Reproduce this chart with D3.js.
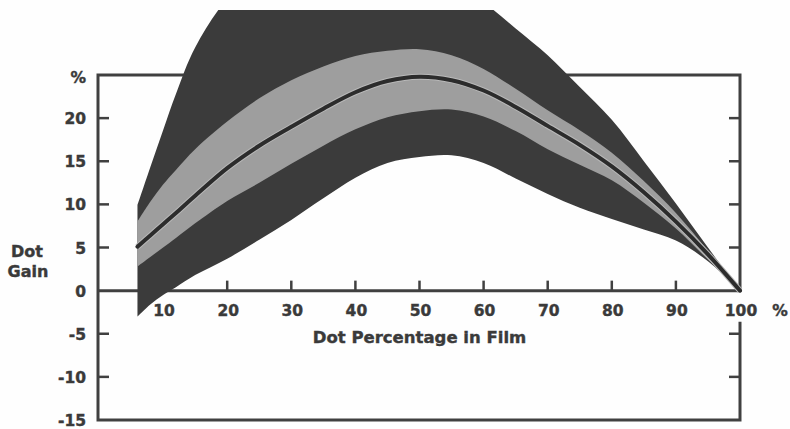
<!DOCTYPE html>
<html>
<head>
<meta charset="utf-8">
<script src="https://cdn.jsdelivr.net/npm/d3@7"></script>
<style>
	html, body { margin: 0; padding: 0; background: #fefefe; }
	svg { display: block; }
	text { font-family: "DejaVu Sans", "Liberation Sans", sans-serif; font-weight: bold; fill: #3a3a3a; stroke: #3a3a3a; stroke-width: 0.4px; }
</style>
</head>
<body>
<div id="chart"></div>
<script>
// Dot percentage in film (x) and dot gain (%) for each curve
const dotPct      = [6, 8, 10, 12, 15, 20, 25, 30, 35, 40, 45, 50, 55, 60, 65, 70, 75, 80, 85, 90, 95, 100];
const upperOuter  = [9.9, 14.3, 18.6, 22.8, 28.2, 33.8, 36.8, 38.6, 39.6, 40.0, 39.8, 38.8, 36.6, 33.5, 30.4, 27.3, 23.6, 19.8, 15.0, 10.1, 5.0, 0];
const upperLight  = [8.0, 10.3, 12.3, 14.0, 16.4, 19.6, 22.3, 24.4, 26.0, 27.2, 27.8, 28.0, 27.3, 25.7, 23.4, 20.9, 18.6, 16.0, 12.7, 9.0, 4.6, 0];
const meanGain    = [5.1, 6.4, 7.7, 9.0, 11.0, 14.2, 16.8, 19.0, 21.1, 23.0, 24.3, 24.8, 24.4, 23.2, 21.3, 19.1, 16.9, 14.4, 11.4, 8.0, 4.2, 0];
const lowerLight  = [2.8, 3.9, 5.0, 6.1, 7.8, 10.4, 12.5, 14.7, 16.8, 18.7, 20.1, 20.8, 21.0, 20.2, 18.5, 16.4, 14.6, 12.8, 10.2, 7.2, 3.6, 0];
const lowerOuter  = [-3.0, -1.6, -0.5, 0.4, 1.8, 3.7, 5.9, 8.2, 10.7, 13.1, 14.8, 15.5, 15.7, 14.8, 13.0, 11.2, 9.6, 8.3, 7.1, 5.8, 3.4, 0];

const xTicks = [10, 20, 30, 40, 50, 60, 70, 80, 90, 100];
const yTicks = [20, 15, 10, 5, 0, -5, -10, -15];

function drawChart() {
	const width = 790;
	const height = 429;

	const svg = d3.select("#chart")
		.append("svg")
		.attr("width", width)
		.attr("height", height);

	const x = d3.scaleLinear().domain([0, 100]).range([99, 740]);
	const y = d3.scaleLinear().domain([-15, 25]).range([420, 75]);

	const left = x(0) - 1, right = x(100), top = y(25), bottom = y(-15);
	const axisColor = "#404040";

	// Frame, with a gap on the right where the "100" label sits
	const frame = svg.append("g")
		.attr("stroke", axisColor)
		.attr("stroke-width", 3)
		.attr("fill", "none");

	frame.append("path")
		.attr("d", `M${right},${y(0) + 1}V${top}H${left}V${bottom}H${right}V${y(0) + 31}`);

	// zero line
	frame.append("line")
		.attr("x1", left).attr("x2", right)
		.attr("y1", y(0)).attr("y2", y(0));

	const ticks = svg.append("g")
		.attr("stroke", axisColor)
		.attr("stroke-width", 2.5);

	ticks.selectAll(".ytl")
		.data(yTicks.filter(d => d !== 0 && d !== -15))
		.enter().append("line")
		.attr("x1", left).attr("x2", left + 11)
		.attr("y1", d => y(d)).attr("y2", d => y(d));

	ticks.selectAll(".ytr")
		.data(yTicks.filter(d => d !== 0 && d !== -15))
		.enter().append("line")
		.attr("x1", right - 11).attr("x2", right)
		.attr("y1", d => y(d)).attr("y2", d => y(d));

	ticks.selectAll(".xt")
		.data(xTicks.filter(d => d !== 100))
		.enter().append("line")
		.attr("x1", d => x(d)).attr("x2", d => x(d))
		.attr("y1", y(0)).attr("y2", y(0) - 10);

	// bands
	const rows = dotPct.map((p, i) => ({
		p: p,
		uo: upperOuter[i],
		ul: upperLight[i],
		m: meanGain[i],
		ll: lowerLight[i],
		lo: lowerOuter[i]
	}));

	svg.append("defs")
		.append("clipPath")
		.attr("id", "page-clip")
		.append("rect")
		.attr("x", 0).attr("y", 10)
		.attr("width", width).attr("height", height - 10);

	const bands = svg.append("g").attr("clip-path", "url(#page-clip)");

	const curve = d3.curveCatmullRom.alpha(0.5);

	const outerArea = d3.area()
		.x(d => x(d.p))
		.y0(d => y(d.lo))
		.y1(d => y(d.uo))
		.curve(curve);

	const lightArea = d3.area()
		.x(d => x(d.p))
		.y0(d => y(d.ll))
		.y1(d => y(d.ul))
		.curve(curve);

	const meanLine = d3.line()
		.x(d => x(d.p))
		.y(d => y(d.m))
		.curve(curve);

	bands.append("path")
		.datum(rows)
		.attr("fill", "#3b3b3b")
		.attr("d", outerArea);

	bands.append("path")
		.datum(rows)
		.attr("fill", "#9e9e9e")
		.attr("d", lightArea);

	bands.append("path")
		.datum(rows)
		.attr("fill", "none")
		.attr("stroke", "#b9b9b9")
		.attr("stroke-width", 6)
		.attr("d", meanLine);

	bands.append("path")
		.datum(rows)
		.attr("fill", "none")
		.attr("stroke", "#2c2c2c")
		.attr("stroke-width", 4)
		.attr("stroke-linecap", "round")
		.attr("d", meanLine);

	// labels
	const labels = svg.append("g").attr("font-size", 15.5);

	labels.selectAll(".yl")
		.data(yTicks)
		.enter().append("text")
		.attr("x", 86)
		.attr("y", d => y(d) + 6)
		.attr("text-anchor", "end")
		.text(d => d);

	labels.append("text")
		.attr("x", 86)
		.attr("y", 83)
		.attr("text-anchor", "end")
		.text("%");

	labels.selectAll(".xl")
		.data(xTicks)
		.enter().append("text")
		.attr("x", d => x(d) + 1)
		.attr("y", 316)
		.attr("text-anchor", "middle")
		.text(d => d);

	labels.append("text")
		.attr("x", 780)
		.attr("y", 316)
		.attr("text-anchor", "middle")
		.text("%");

	labels.append("text")
		.attr("x", x(50))
		.attr("y", 343)
		.attr("font-size", 16.5)
		.attr("text-anchor", "middle")
		.text("Dot Percentage in Film");

	labels.append("text")
		.attr("x", 27)
		.attr("y", 257)
		.attr("font-size", 16)
		.attr("text-anchor", "middle")
		.text("Dot");

	labels.append("text")
		.attr("x", 28)
		.attr("y", 277)
		.attr("font-size", 16)
		.attr("text-anchor", "middle")
		.text("Gain");
}

window.addEventListener('load', () => {
	drawChart();
});
</script>
</body>
</html>
